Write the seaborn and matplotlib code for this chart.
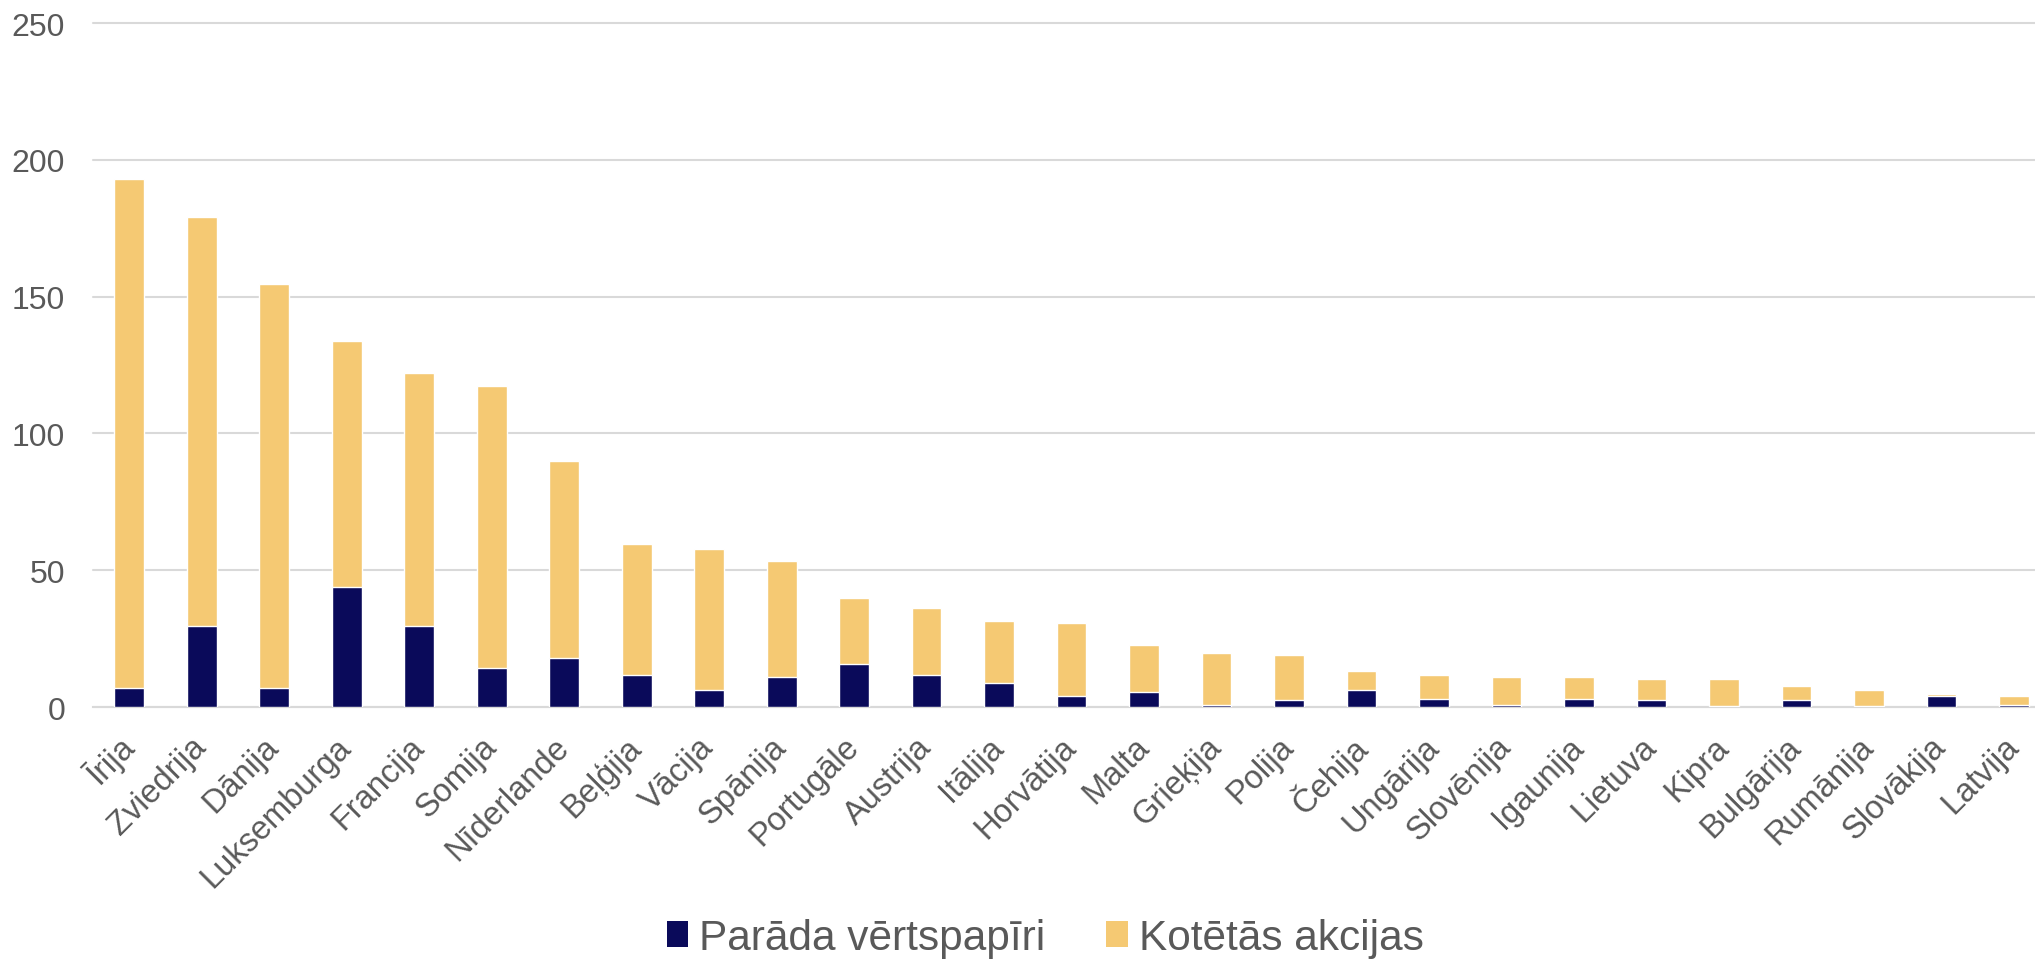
import numpy as np
import pandas as pd
import matplotlib
matplotlib.use('Agg')
import matplotlib.pyplot as plt
from matplotlib.patches import Patch
import seaborn as sns

# -------------------------
# Data
# -------------------------
countries = ['Īrija', 'Zviedrija', 'Dānija', 'Luksemburga', 'Francija', 'Somija',
             'Nīderlande', 'Beļģija', 'Vācija', 'Spānija', 'Portugāle', 'Austrija',
             'Itālija', 'Horvātija', 'Malta', 'Grieķija', 'Polija', 'Čehija',
             'Ungārija', 'Slovēnija', 'Igaunija', 'Lietuva', 'Kipra', 'Bulgārija',
             'Rumānija', 'Slovākija', 'Latvija']
debt = [7.1, 29.8, 7.1, 43.8, 29.8, 14.2, 18.1, 11.7, 6.3, 11.1, 15.8, 11.7,
        8.8, 3.9, 5.5, 0.7, 2.4, 6.2, 3.1, 0.7, 3.1, 2.4, 0.2, 2.4, 0.2, 4.0, 0.7]
equity = [185.9, 149.2, 147.7, 89.9, 92.2, 103.1, 71.9, 47.8, 51.6, 42.1, 24.1, 24.4,
          22.7, 26.8, 17.3, 18.9, 16.5, 7.1, 8.6, 10.3, 7.9, 7.8, 10.0, 5.4, 6.0, 0.6, 3.3]
series_names = ['Parāda vērtspapīri', 'Kotētās akcijas']

df = pd.DataFrame({'Country': countries, 'Debt': debt, 'Equity': equity})
df['Total'] = df['Debt'] + df['Equity']

navy = '#0A0A5A'
gold = '#F5C973'
grey_txt = '#595959'
grid_col = '#D9D9D9'

# -------------------------
# Plot
# -------------------------
sns.set_style('white')
plt.rcParams['font.family'] = ['Liberation Sans', 'DejaVu Sans']

fig = plt.figure(figsize=(20.35, 9.62), dpi=100)
ax = fig.add_axes([0.0457, 0.264, 0.9543, 0.711])

# stacked: total (gold) underneath, debt (navy) on top from zero
sns.barplot(data=df, x='Country', y='Total', color=gold, saturation=1,
            width=0.41, ax=ax, zorder=2)
sns.barplot(data=df, x='Country', y='Debt', color=navy, saturation=1,
            width=0.41, ax=ax, zorder=3)

ax.set_ylim(0, 250)
ax.set_xlim(-0.5, 26.29)
ax.set_yticks(np.arange(0, 251, 50))
ax.yaxis.grid(True, color=grid_col, linewidth=1.5)
for gl in ax.get_ygridlines():
    gl.set_clip_on(False)
ax.set_axisbelow(True)
for s in ['top', 'right', 'left']:
    ax.spines[s].set_visible(False)
ax.spines['bottom'].set_color(grid_col)
ax.spines['bottom'].set_linewidth(1.5)

ax.set_xlabel('')
ax.set_ylabel('')
ax.tick_params(axis='y', length=0, pad=20, labelsize=23, labelcolor=grey_txt)
ax.tick_params(axis='x', length=0, pad=25, labelsize=23.5, labelcolor=grey_txt)
ax.set_xticks(range(len(countries)))
ax.set_xticklabels(countries, rotation=45, ha='right', va='center',
                   rotation_mode='anchor')

handles = [Patch(facecolor=navy, edgecolor='none'), Patch(facecolor=gold, edgecolor='none')]
fig.legend(handles, series_names, loc='center', bbox_to_anchor=(0.5135, 0.024),
           ncol=2, frameon=False, fontsize=30.5, labelcolor=grey_txt,
           handlelength=0.5, handleheight=0.55, handletextpad=0.26, columnspacing=1.45)

fig.savefig('out.png', dpi=100)
